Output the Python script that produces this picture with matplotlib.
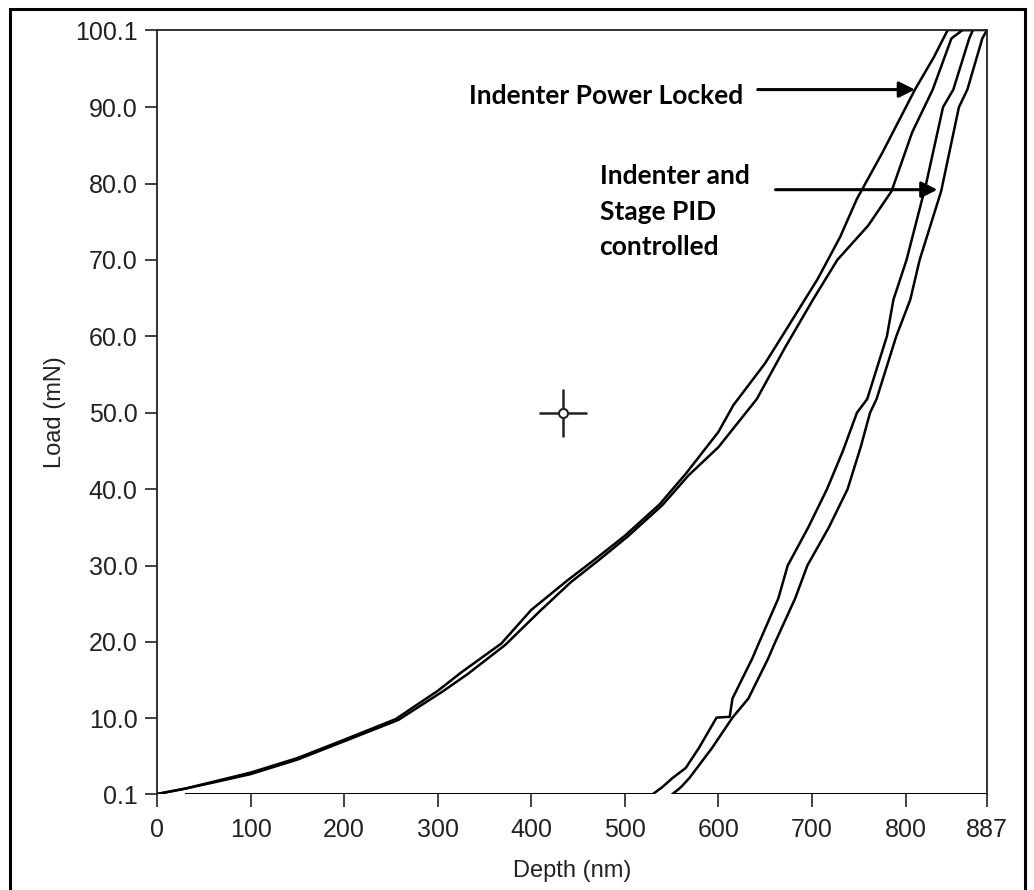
import numpy as np
import matplotlib
matplotlib.use("Agg")
import matplotlib.pyplot as plt
from matplotlib.path import Path
from matplotlib.patches import Rectangle

# ---- data (depth in nm, load in mN) ----
load1_depth = [0, 30, 60, 100, 150, 200, 255, 300, 325, 368, 400, 438, 470, 500, 537, 565,
               600, 616, 650, 673, 706, 730, 748, 775, 810, 830, 845, 872]
load1_load = [0.1, 0.8, 1.7, 2.9, 4.8, 7.2, 9.9, 13.6, 16.0, 19.8, 24.2, 28.0, 31.0, 33.9, 38.0, 42.0,
              47.5, 51.0, 56.5, 61.0, 67.5, 73.0, 78.0, 84.0, 92.3, 96.5, 100.1, 100.1]

load2_depth = [0, 30, 60, 100, 150, 200, 258, 305, 332, 372, 408, 442, 472, 503, 540, 568,
               600, 641, 671, 701, 727, 760, 785, 807, 829, 849, 861, 887]
load2_load = [0.1, 0.8, 1.6, 2.7, 4.6, 7.0, 9.8, 13.5, 15.8, 19.6, 23.9, 27.8, 30.7, 33.8, 37.9, 41.8,
              45.5, 51.8, 58.5, 64.8, 70.0, 74.5, 79.0, 86.7, 92.3, 99.0, 100.1, 100.1]

unload1_depth = [872, 868, 851, 840, 822, 801, 787, 780, 759, 748, 733, 716, 696, 674, 664, 643,
                 636, 615, 612, 598, 579, 565, 551, 540, 530]
unload1_load = [100.1, 99.0, 92.3, 90.0, 80.0, 70.0, 64.8, 60.0, 51.8, 50.0, 45.0, 40.0, 35.0,
                30.0, 25.7, 19.8, 17.8, 12.6, 10.2, 10.1, 6.1, 3.5, 2.2, 1.0, 0.1]

unload2_depth = [887, 882, 866, 857, 838, 815, 805, 790, 769, 762, 752, 738, 718, 695, 682, 660,
                 653, 632, 615, 593, 569, 560, 551]
unload2_load = [100.1, 99.0, 92.3, 90.0, 79.0, 70.0, 64.8, 60.0, 51.8, 50.0, 45.5, 40.0, 35.0,
                30.0, 25.7, 19.8, 17.8, 12.6, 10.1, 6.1, 2.2, 1.0, 0.1]

# zero-load trace drawn along the bottom of the plot
base_a_depth = [31, 527]
base_b_depth = [551, 887]
base_load = [0.1, 0.1]

cursor_depth = [434]
cursor_load = [50.0]

y_ticks = [0.1, 10.0, 20.0, 30.0, 40.0, 50.0, 60.0, 70.0, 80.0, 90.0, 100.1]
x_ticks = [0, 100, 200, 300, 400, 500, 600, 700, 800, 887]

W, H = 1034, 890
fig = plt.figure(figsize=(W / 100, H / 100), dpi=100)
ax = fig.add_axes([157 / W, 1 - 794 / H, (987 - 157) / W, (794 - 30) / H])

tick_font = ['Liberation Sans', 'DejaVu Sans']

for d, l in [(load1_depth, load1_load), (load2_depth, load2_load),
             (unload1_depth, unload1_load), (unload2_depth, unload2_load)]:
    ax.plot(d, l, color='black', lw=1.8, solid_joinstyle='round')

ax.plot(base_a_depth, base_load, color='black', lw=2.2)
ax.plot(base_b_depth, base_load, color='black', lw=2.2)

# cursor: small open circle with four arms
arms = Path([(-1, 0), (-0.22, 0), (0.22, 0), (1, 0), (0, -1), (0, -0.22), (0, 0.22), (0, 1)],
            [Path.MOVETO, Path.LINETO, Path.MOVETO, Path.LINETO,
             Path.MOVETO, Path.LINETO, Path.MOVETO, Path.LINETO])
ax.plot(cursor_depth, cursor_load, marker=arms, ms=34, mew=1.8, color='#222222', ls='none')
ax.plot(cursor_depth, cursor_load, marker='o', ms=6.5, mew=1.5, mfc='white', mec='#222222', ls='none')

ax.set_xlim(0, 887)
ax.set_ylim(0.1, 100.1)
ax.set_xticks(x_ticks)
ax.set_xticklabels([str(t) for t in x_ticks])
ax.set_yticks(y_ticks)
ax.set_yticklabels([f'{t:.1f}' for t in y_ticks])
ax.tick_params(axis='both', direction='out', length=9, width=1.2, color='#222222',
               labelsize=18, labelcolor='#222222')
ax.tick_params(axis='x', pad=8)
ax.tick_params(axis='y', pad=5)
for lab in ax.get_xticklabels() + ax.get_yticklabels():
    lab.set_family(tick_font)

for side in ['left', 'top', 'right']:
    ax.spines[side].set_linewidth(1.3)
    ax.spines[side].set_color('#222222')
ax.spines['bottom'].set_visible(False)

ax.set_xlabel('Depth (nm)', family=tick_font, fontsize=17, color='#222222')
ax.set_ylabel('Load (mN)', family=tick_font, fontsize=17, color='#222222')
ax.xaxis.set_label_coords(0.5, -0.086)
ax.yaxis.set_label_coords(-0.11, 0.5)

# annotations
ann_font = ['Lato', 'DejaVu Sans']
ax.text(627, 91.4, 'Indenter Power Locked', ha='right', va='center',
        fontsize=19, fontweight='bold', family=ann_font)
ax.annotate('', xy=(813, 92.3), xytext=(639, 92.3),
            arrowprops=dict(arrowstyle='-|>', color='black', lw=2.2, mutation_scale=24))
ax.text(473, 76.3, 'Indenter and\nStage PID\ncontrolled', ha='left', va='center',
        fontsize=19, fontweight='bold', family=ann_font, linespacing=1.57)
ax.annotate('', xy=(837, 79.2), xytext=(658, 79.2),
            arrowprops=dict(arrowstyle='-|>', color='black', lw=2.2, mutation_scale=24))

# outer frame around the picture
fig.add_artist(Rectangle((10 / W, -0.05), (1025 - 10) / W, 1.05 - 9 / H,
                         transform=fig.transFigure, fill=False, lw=2.2, ec='black'))

fig.savefig('out.png', dpi=100)
